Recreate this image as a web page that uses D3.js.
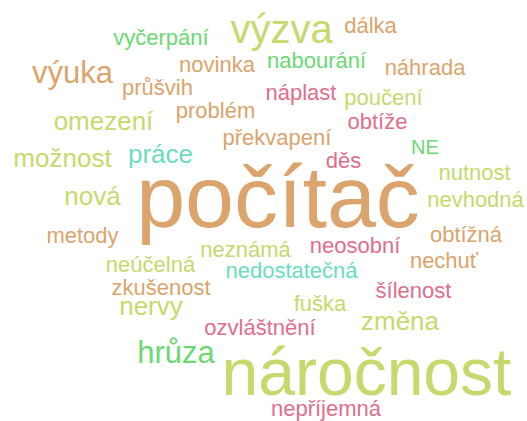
<!DOCTYPE html>
<html>
<head>
<meta charset="utf-8">
<script src="https://cdn.jsdelivr.net/npm/d3@7"></script>
<style>
html,body{margin:0;padding:0;background:#fff;}
svg{display:block;}
</style>
</head>
<body>
<svg id="chart" width="527" height="421"></svg>
<script>
// words and their weights (frequency)
const words = ["počítač","náročnost","výzva","výuka","hrůza","omezení","možnost","práce","nová","nervy","změna",
  "vyčerpání","novinka","průšvih","problém","překvapení","dálka","nabourání","náhrada","náplast","poučení","obtíže",
  "metody","neznámá","neúčelná","nedostatečná","děs","nutnost","nevhodná","obtížná","neosobní","nechuť",
  "zkušenost","ozvláštnění","šílenost","fuška","nepříjemná","NE"];
const weights = [12,9,5,4,4,3,3,3,3,3,3,
  2,2,2,2,2,2,2,2,2,2,2,
  2,2,2,2,2,2,2,2,2,2,
  2,2,2,2,2,1];
// colour group of each word
const groups = ["tan","lime","lime","tan","green","lime","lime","teal","lime","lime","lime",
  "green","tan","tan","tan","tan","tan","green","tan","pink","lime","pink",
  "tan","lime","lime","teal","pink","lime","lime","tan","pink","tan",
  "tan","pink","pink","lime","pink","green"];
// layout placement (word-cloud result): centre x and baseline y in layout units
const placeX = [278,366.5,281.5,72.5,176,103.5,62.5,160.5,92.5,151,400,
  161,217,157.5,215.5,277,370.5,316.5,425,301,383.5,377.5,
  82.5,245.5,150.5,291.5,343.5,474.5,475.5,466,355,444,
  161,260,413.5,320,326,425];
const placeY = [227,395,43,83,363,130,167,163,205,315,330,
  45,72,95,118,145,33,68,75,100,105,129,
  243,257,272,278,168,180,207,242,253,268,
  295,335,298,311,416,154];

const svg = d3.select("#chart");
const W = 527, H = 421;
const x = d3.scaleLinear().domain([0, 527]).range([0, W]);
const y = d3.scaleLinear().domain([0, 421]).range([0, H]);
const size = d3.scaleLinear().domain([1,2,3,4,5,9,12]).range([20,22,26,31,40,66,88]);
const color = d3.scaleOrdinal()
  .domain(["tan","lime","green","pink","teal"])
  .range(["#dba46c","#c4da6c","#6cd874","#de6f8c","#6cdcbe"]);

const data = words.map((w,i)=>({text:w, weight:weights[i], group:groups[i], px:placeX[i], py:placeY[i]}));

svg.selectAll("text.word")
  .data(data)
  .join("text")
  .attr("class","word")
  .attr("x", d=>x(d.px))
  .attr("y", d=>y(d.py))
  .attr("text-anchor","middle")
  .attr("font-family","'Liberation Sans', Arial, Helvetica, sans-serif")
  .attr("font-size", d=>size(d.weight)+"px")
  .attr("fill", d=>color(d.group))
  .text(d=>d.text);
</script>
</body>
</html>
